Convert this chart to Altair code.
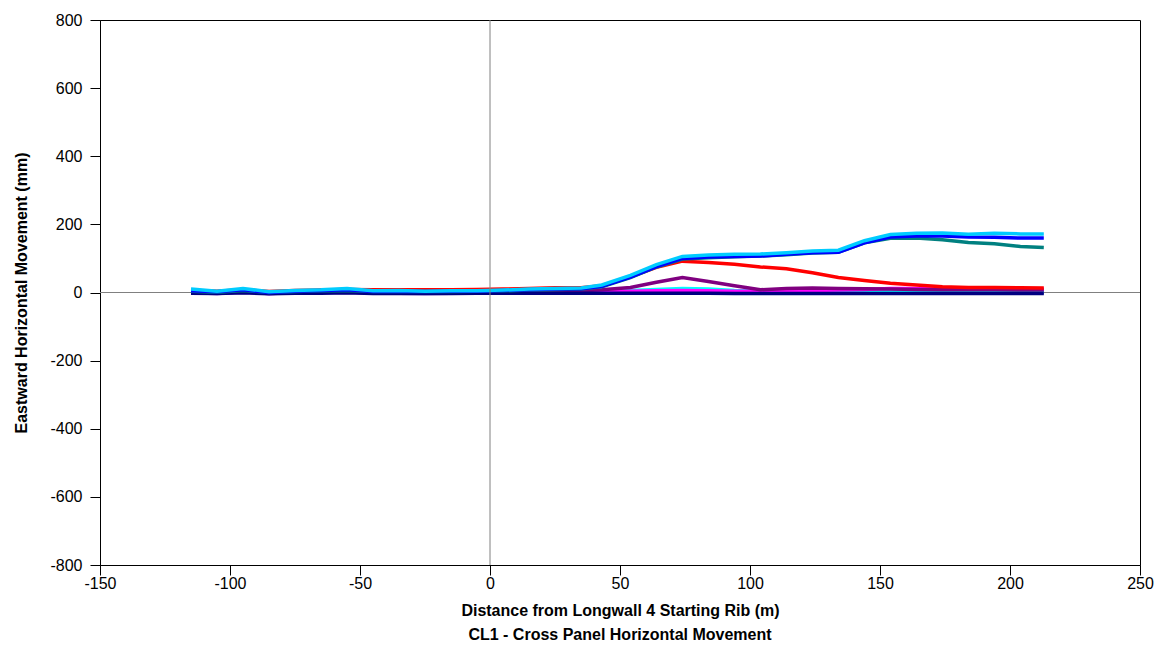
import altair as alt
import pandas as pd

FONT = "Liberation Sans, Arial, sans-serif"

# Distance from Longwall 4 starting rib (m)
X = [-115, -105, -95, -85, -75, -65, -55, -45, -35, -25, -15, -5, 5, 15, 25, 35,
     43, 54, 64, 74, 84, 94, 104, 114, 124, 134, 144, 154, 164, 174, 184, 194, 204, 213]

# Eastward horizontal movement (mm), one list per survey series
yellow = [1, 0, 3, -1, 1, 2, 3, 0, 1, 0, 1, 2, 2, 3, 3, 3, 3, 4, 5, 6, 5, 3, 2, 2, 1, 1, 1, 1, 1, 1, 1, 1, 1, 1]
violet = [-1, -3, 1, -3, -1, 0, 1, -2, -2, -3, -2, -1, -1, 0, 0, 0, 0, 1, 1, 2, 1, 0, 0, 0, 0, 0, 0, 0, 0, 0, 0, 0, 0, 0]
cyan = [3, 1, 5, 0, 2, 3, 5, 2, 2, 1, 2, 3, 3, 4, 5, 5, 5, 6, 9, 12, 10, 6, 4, 3, 3, 3, 3, 3, 2, 3, 2, 3, 2, 2]
magenta = [0, -2, 2, -3, 0, 1, 2, 0, -1, -2, -1, 0, 0, 1, 2, 2, 3, 4, 5, 6, 5, 4, 4, 5, 6, 7, 9, 12, 12, 11, 11, 10, 10, 10]
purple = [2, 0, 4, -1, 2, 3, 4, 1, 1, 0, 1, 2, 2, 3, 4, 5, 8, 15, 30, 44, 32, 20, 8, 12, 13, 12, 11, 10, 9, 8, 8, 8, 7, 7]
navy = [-2, -3, -1, -4, -2, -2, -1, -3, -3, -3, -3, -2, -2, -2, -2, -2, -2, -2, -2, -2, -2, -3, -3, -3, -3, -3, -3, -3, -3, -3, -3, -3, -3, -3]
red = [6, 4, 8, 3, 6, 7, 9, 8, 8, 8, 8, 9, 10, 12, 14, 14, 20, 46, 74, 92, 88, 83, 75, 70, 58, 44, 35, 27, 22, 17, 15, 15, 14, 13]
teal = [4, 1, 6, 0, 3, 5, 6, 3, 3, 3, 3, 4, 5, 7, 9, 10, 17, 44, 75, 98, 102, 105, 107, 111, 116, 118, 146, 159, 160, 155, 147, 143, 135, 132]
blue = [5, 2, 8, 0, 4, 6, 8, 3, 4, 3, 4, 4, 6, 8, 10, 11, 18, 45, 76, 100, 104, 106, 107, 112, 117, 118, 146, 163, 166, 166, 163, 162, 160, 160]
skyblue = [10, 4, 12, 2, 6, 8, 12, 5, 6, 4, 5, 5, 7, 10, 12, 13, 22, 50, 82, 106, 110, 112, 113, 117, 122, 124, 152, 170, 174, 175, 171, 174, 172, 172]

series_names = ["S1", "S2", "S3", "S4", "S5", "S6", "S7", "S8", "S9", "S10"]
series_values = [yellow, violet, cyan, magenta, purple, navy, red, teal, blue, skyblue]
series_colors = ["#FFFF00", "#6600CC", "#00FFFF", "#FF00FF", "#800080",
                 "#000080", "#FF0000", "#008080", "#0000FF", "#00CCFF"]

x_ticks = [-150, -100, -50, 0, 50, 100, 150, 200, 250]
y_ticks = [-800, -600, -400, -200, 0, 200, 400, 600, 800]

rows = []
for name, vals in zip(series_names, series_values):
    for xv, yv in zip(X, vals):
        rows.append({"series": name, "x": xv, "y": yv})
df = pd.DataFrame(rows)

xscale = alt.Scale(domain=[-150, 250], nice=False, zero=False)
yscale = alt.Scale(domain=[-800, 800], nice=False)

lines = alt.Chart(df).mark_line(strokeWidth=3.5).encode(
    x=alt.X("x:Q", scale=xscale,
            axis=alt.Axis(title="Distance from Longwall 4 Starting Rib (m)",
                          values=x_ticks, labelExpr="datum.value + ''")),
    y=alt.Y("y:Q", scale=yscale,
            axis=alt.Axis(title="Eastward Horizontal Movement (mm)",
                          values=y_ticks, labelExpr="datum.value + ''")),
    color=alt.Color("series:N", scale=alt.Scale(domain=series_names, range=series_colors),
                    legend=None, sort=series_names),
)

zero_df = pd.DataFrame({"v": [0]})
hrule = alt.Chart(zero_df).mark_rule(color="#808080", strokeWidth=1).encode(y=alt.Y("v:Q", scale=yscale))
vrule = alt.Chart(zero_df).mark_rule(color="#808080", strokeWidth=1).encode(x=alt.X("v:Q", scale=xscale))

chart = alt.layer(hrule, lines, vrule).properties(
    width=1040,
    height=545,
    background="white",
    autosize=alt.AutoSizeParams(type="none"),
    padding={"left": 92, "top": 12, "right": 15, "bottom": 79},
    title=alt.TitleParams("CL1 - Cross Panel Horizontal Movement", orient="bottom",
                          anchor="middle", fontSize=16, fontWeight="bold", font=FONT,
                          color="black", offset=9),
).configure_axis(
    labelFont=FONT, labelFontSize=16, labelColor="black",
    titleFont=FONT, titleFontSize=16, titleFontWeight="bold", titleColor="black",
    tickColor="black", domainColor="black", tickSize=10, tickWidth=1,
    grid=False, labelFlush=False,
).configure_axisY(titlePadding=20, labelPadding=8).configure_axisX(
    titlePadding=11, labelPadding=0
).configure_view(
    stroke="black", strokeWidth=1
)

chart.save("out.html", embed_options={"renderer": "svg", "actions": False})
